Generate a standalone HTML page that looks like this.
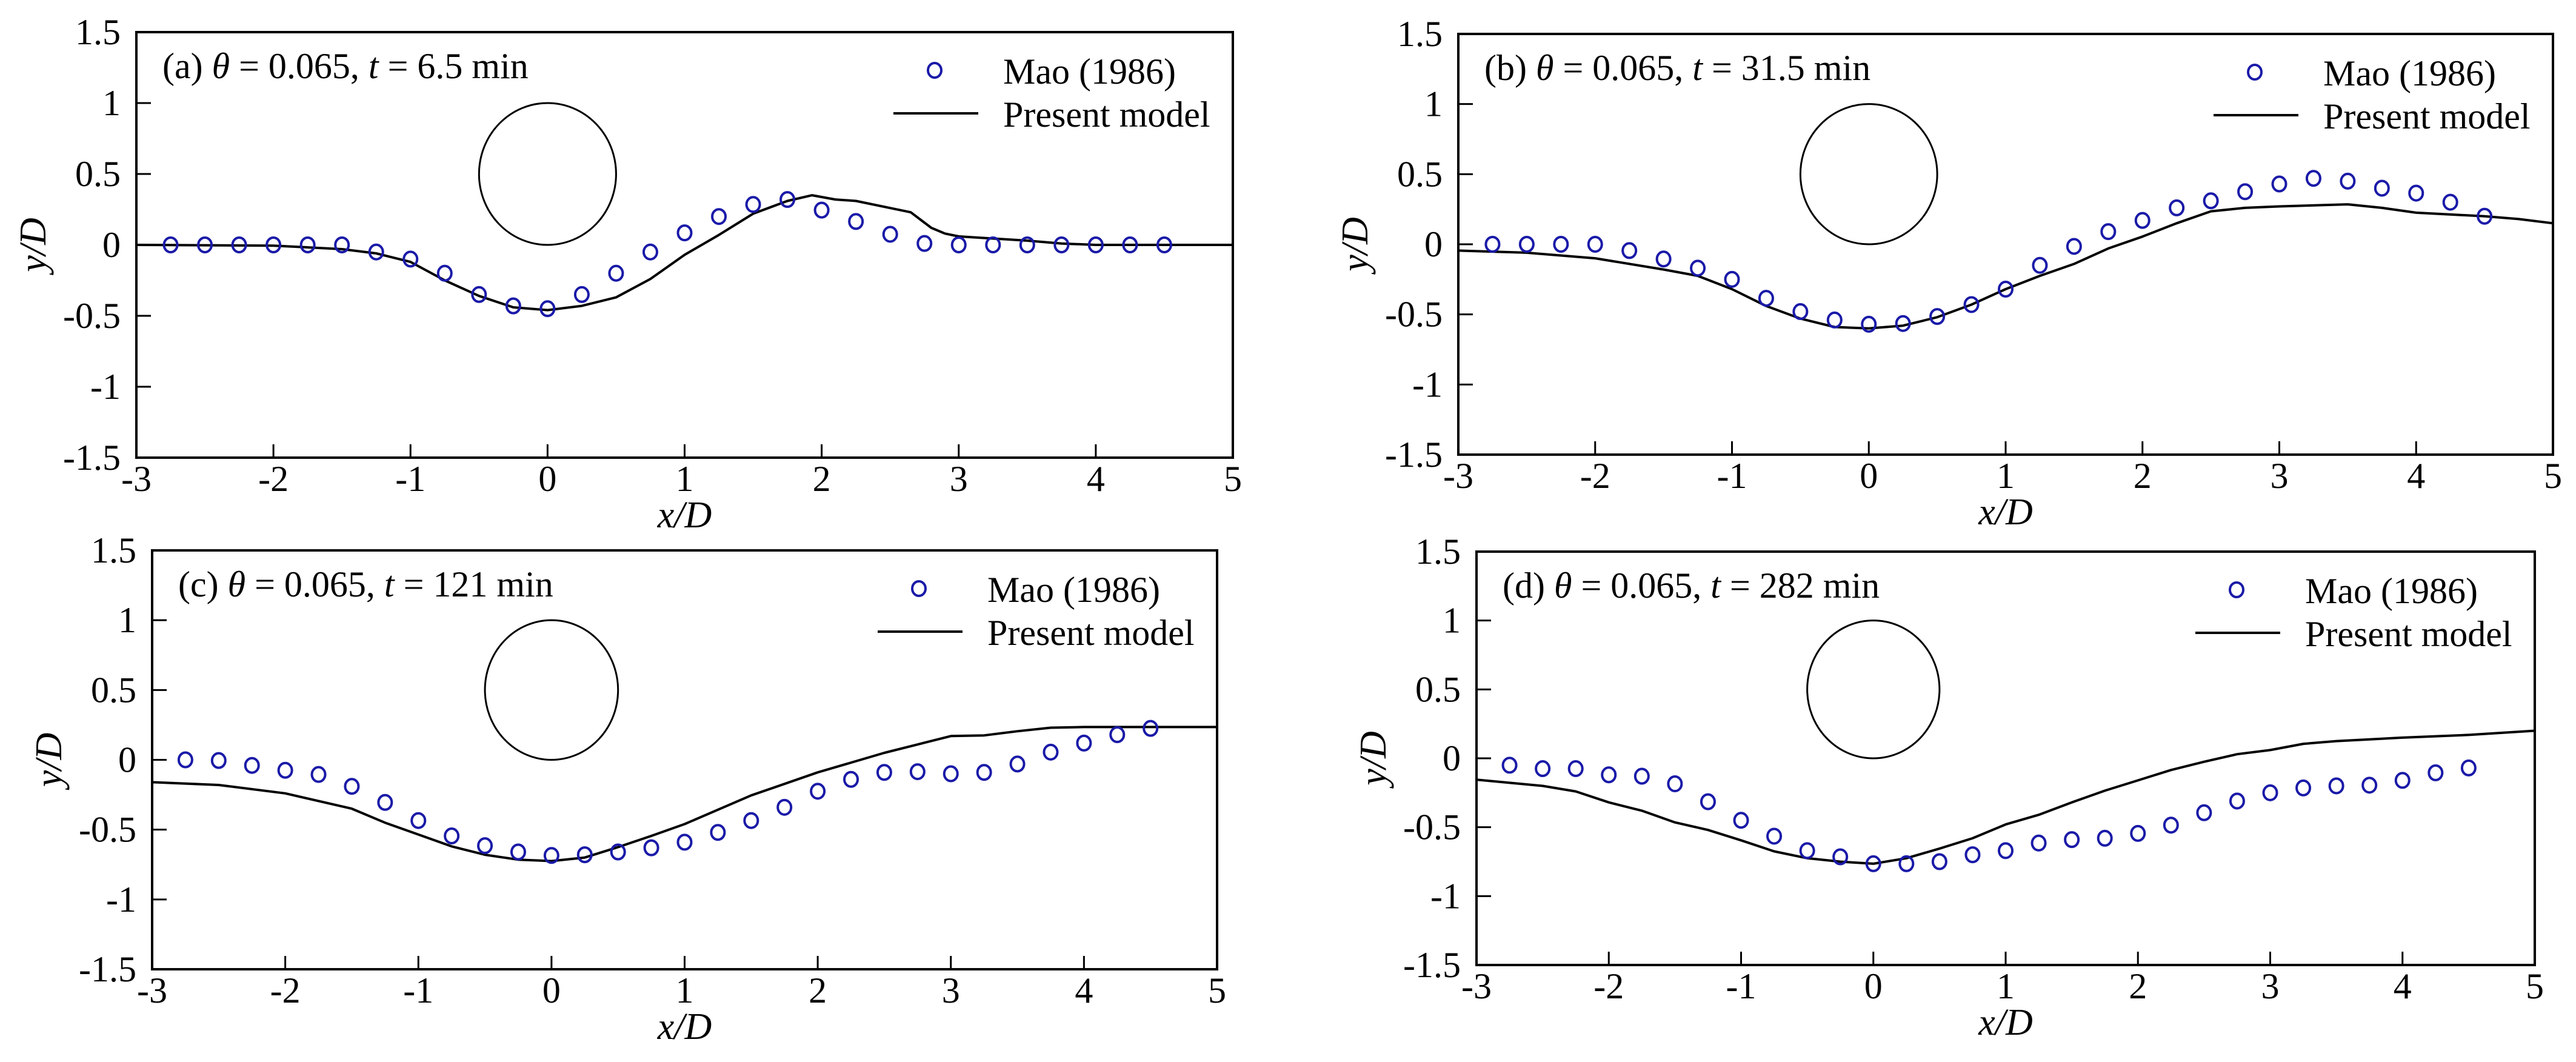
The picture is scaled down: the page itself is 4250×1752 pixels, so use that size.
<!DOCTYPE html>
<html><head><meta charset="utf-8"><style>
html,body{margin:0;padding:0;background:#fff;}
svg{display:block;}
svg text{font-family:"Liberation Serif","Times New Roman",serif;}
</style></head><body>
<svg id="fig" width="4250" height="1752" viewBox="0 0 4250 1752" xmlns="http://www.w3.org/2000/svg"></svg>
<script>
const xTicks=[-3,-2,-1,0,1,2,3,4,5];
const yTicks=[-1.5,-1,-0.5,0,0.5,1,1.5];
const yTickLabels=["-1.5","-1","-0.5","0","0.5","1","1.5"];
const markerX=[-2.75,-2.5,-2.25,-2,-1.75,-1.5,-1.25,-1,-0.75,-0.5,-0.25,0,0.25,0.5,0.75,1,1.25,1.5,1.75,2,2.25,2.5,2.75,3,3.25,3.5,3.75,4,4.25,4.5];
const panelLabels=["(a)","(b)","(c)","(d)"];
const panelTimes=["6.5","31.5","121","282"];
const maoA=[0,0,0,0,0,0,-0.05,-0.1,-0.2,-0.35,-0.43,-0.45,-0.35,-0.2,-0.05,0.085,0.2,0.285,0.32,0.245,0.165,0.075,0.01,0,0,0,0,0,0,0];
const maoB=[0,0,0,0,-0.045,-0.105,-0.17,-0.25,-0.385,-0.48,-0.54,-0.57,-0.565,-0.515,-0.43,-0.32,-0.15,-0.015,0.09,0.17,0.26,0.31,0.375,0.43,0.47,0.45,0.40,0.365,0.30,0.2];
const maoC=[0,-0.005,-0.04,-0.075,-0.105,-0.19,-0.305,-0.435,-0.545,-0.615,-0.66,-0.685,-0.68,-0.66,-0.63,-0.59,-0.52,-0.435,-0.34,-0.225,-0.14,-0.09,-0.085,-0.1,-0.09,-0.03,0.055,0.12,0.18,0.225];
const maoD=[-0.05,-0.075,-0.075,-0.12,-0.13,-0.185,-0.315,-0.45,-0.565,-0.67,-0.715,-0.765,-0.765,-0.75,-0.70,-0.67,-0.615,-0.59,-0.58,-0.545,-0.485,-0.395,-0.31,-0.25,-0.215,-0.2,-0.195,-0.16,-0.105,-0.07];
const modelAx=[-3,-2,-1.5,-1.25,-1,-0.75,-0.5,-0.25,0,0.25,0.5,0.75,1,1.25,1.5,1.75,1.93,2.1,2.25,2.5,2.65,2.8,2.9,3,3.5,3.75,4,5];
const modelAy=[0,-0.005,-0.03,-0.06,-0.12,-0.25,-0.36,-0.44,-0.46,-0.43,-0.37,-0.24,-0.07,0.07,0.22,0.31,0.35,0.32,0.31,0.26,0.23,0.12,0.08,0.06,0.03,0.01,0,0];
const modelBx=[-3,-2.5,-2,-1.5,-1.25,-1,-0.75,-0.5,-0.25,0,0.25,0.5,0.75,1,1.25,1.5,1.75,2,2.25,2.5,2.75,3,3.5,3.75,4,4.5,4.75,5];
const modelBy=[-0.045,-0.06,-0.1,-0.18,-0.225,-0.32,-0.44,-0.53,-0.59,-0.6,-0.58,-0.52,-0.43,-0.32,-0.225,-0.14,-0.03,0.055,0.15,0.235,0.26,0.27,0.285,0.26,0.225,0.2,0.18,0.15];
const modelCx=[-3,-2.5,-2,-1.5,-1.25,-1,-0.75,-0.5,-0.25,0,0.25,0.5,0.75,1,1.5,2,2.5,2.75,3,3.25,3.5,3.75,4,5];
const modelCy=[-0.16,-0.18,-0.24,-0.35,-0.45,-0.535,-0.62,-0.68,-0.715,-0.725,-0.70,-0.625,-0.545,-0.46,-0.255,-0.09,0.05,0.11,0.17,0.175,0.205,0.23,0.235,0.235];
const modelDx=[-3,-2.5,-2.25,-2,-1.75,-1.5,-1.25,-1,-0.75,-0.5,-0.25,0,0.25,0.5,0.75,1,1.25,1.5,1.75,2,2.25,2.5,2.75,3,3.25,3.5,4,4.5,5];
const modelDy=[-0.155,-0.2,-0.24,-0.32,-0.38,-0.465,-0.52,-0.595,-0.675,-0.725,-0.75,-0.765,-0.725,-0.655,-0.58,-0.48,-0.41,-0.32,-0.235,-0.16,-0.085,-0.025,0.03,0.06,0.105,0.125,0.15,0.17,0.2];

const NS="http://www.w3.org/2000/svg";
const FONT="Liberation Serif, Times New Roman, serif";
const svg=document.getElementById('fig');
function mk(tag,attrs,parent){const e=document.createElementNS(NS,tag);for(const k in attrs)e.setAttribute(k,attrs[k]);if(tag==='text')e.setAttribute('font-family',FONT);(parent||svg).appendChild(e);return e;}

const panels=[
 {box:[225,53,2034,755],mao:maoA,mx:modelAx,my:modelAy},
 {box:[2406,56,4212,750],mao:maoB,mx:modelBx,my:modelBy},
 {box:[251,908,2008,1599],mao:maoC,mx:modelCx,my:modelCy},
 {box:[2436,910,4182,1592],mao:maoD,mx:modelDx,my:modelDy}
];

panels.forEach((p,i)=>{
  const [L,T,R,B]=p.box;
  const g=mk('g',{});
  
  
  const sx=v=>L+(v+3)/8*(R-L);
  const sy=v=>B-(v+1.5)/3*(B-T);
  xTicks.forEach(v=>{
    const t=mk('line',{x1:sx(v),x2:sx(v),y1:B,y2:B-22,stroke:'#000','stroke-width':3},g);
    
    const tl=mk('text',{x:sx(v),y:B+55,'font-size':60,'text-anchor':'middle'},g);
    
    tl.textContent=String(v);
  });
  yTicks.forEach((v,k)=>{
    const t=mk('line',{x1:L,x2:L+24,y1:sy(v),y2:sy(v),stroke:'#000','stroke-width':3},g);
    
    const tl=mk('text',{x:L-26,y:sy(v)+20,'font-size':60,'text-anchor':'end'},g);
    
    tl.textContent=yTickLabels[k];
  });
  const cyl=mk('ellipse',{cx:sx(0),cy:sy(0.5),rx:sx(0.5)-sx(0),ry:sy(0)-sy(0.5),fill:'none',stroke:'#000','stroke-width':3},g);
  
  const d=p.mx.map((x,k)=>(k?'L':'M')+sx(x).toFixed(1)+' '+sy(p.my[k]).toFixed(1)).join(' ');
  const ln=mk('path',{d:d,fill:'none',stroke:'#000','stroke-width':4,'stroke-linejoin':'round'},g);
  
  markerX.forEach((x,k)=>{
    const c=mk('ellipse',{cx:sx(x),cy:sy(p.mao[k]),rx:11,ry:12,fill:'none',stroke:'#1a1aa8','stroke-width':4},g);
    
  });
  const fr=mk('rect',{x:L,y:T,width:R-L,height:B-T,fill:'none',stroke:'#000','stroke-width':4},g);
  
  const ti=mk('text',{x:L+43,y:T+76,'font-size':60},g);
  
  ti.innerHTML=panelLabels[i]+' <tspan font-style="italic">θ</tspan> = 0.065, <tspan font-style="italic">t</tspan> = '+panelTimes[i]+' min';
  const lm=mk('ellipse',{cx:R-492,cy:T+63,rx:11,ry:12,fill:'none',stroke:'#1a1aa8','stroke-width':4},g);
  
  const lt1=mk('text',{x:R-379,y:T+85,'font-size':60},g);
  
  lt1.textContent='Mao (1986)';
  const ll=mk('line',{x1:R-560,x2:R-420,y1:T+134,y2:T+134,stroke:'#000','stroke-width':4},g);
  
  const lt2=mk('text',{x:R-379,y:T+156,'font-size':60},g);
  
  lt2.textContent='Present model';
  const xl=mk('text',{x:(L+R)/2,y:B+115,'font-size':62,'text-anchor':'middle','font-style':'italic'},g);
  
  xl.textContent='x/D';
  const yc=(T+B)/2, xc=L-150;
  const yl=mk('text',{x:xc,y:yc,'font-size':62,'text-anchor':'middle','font-style':'italic',transform:'rotate(-90 '+xc+' '+yc+')'},g);
  
  yl.textContent='y/D';
});
</script>
</body></html>
